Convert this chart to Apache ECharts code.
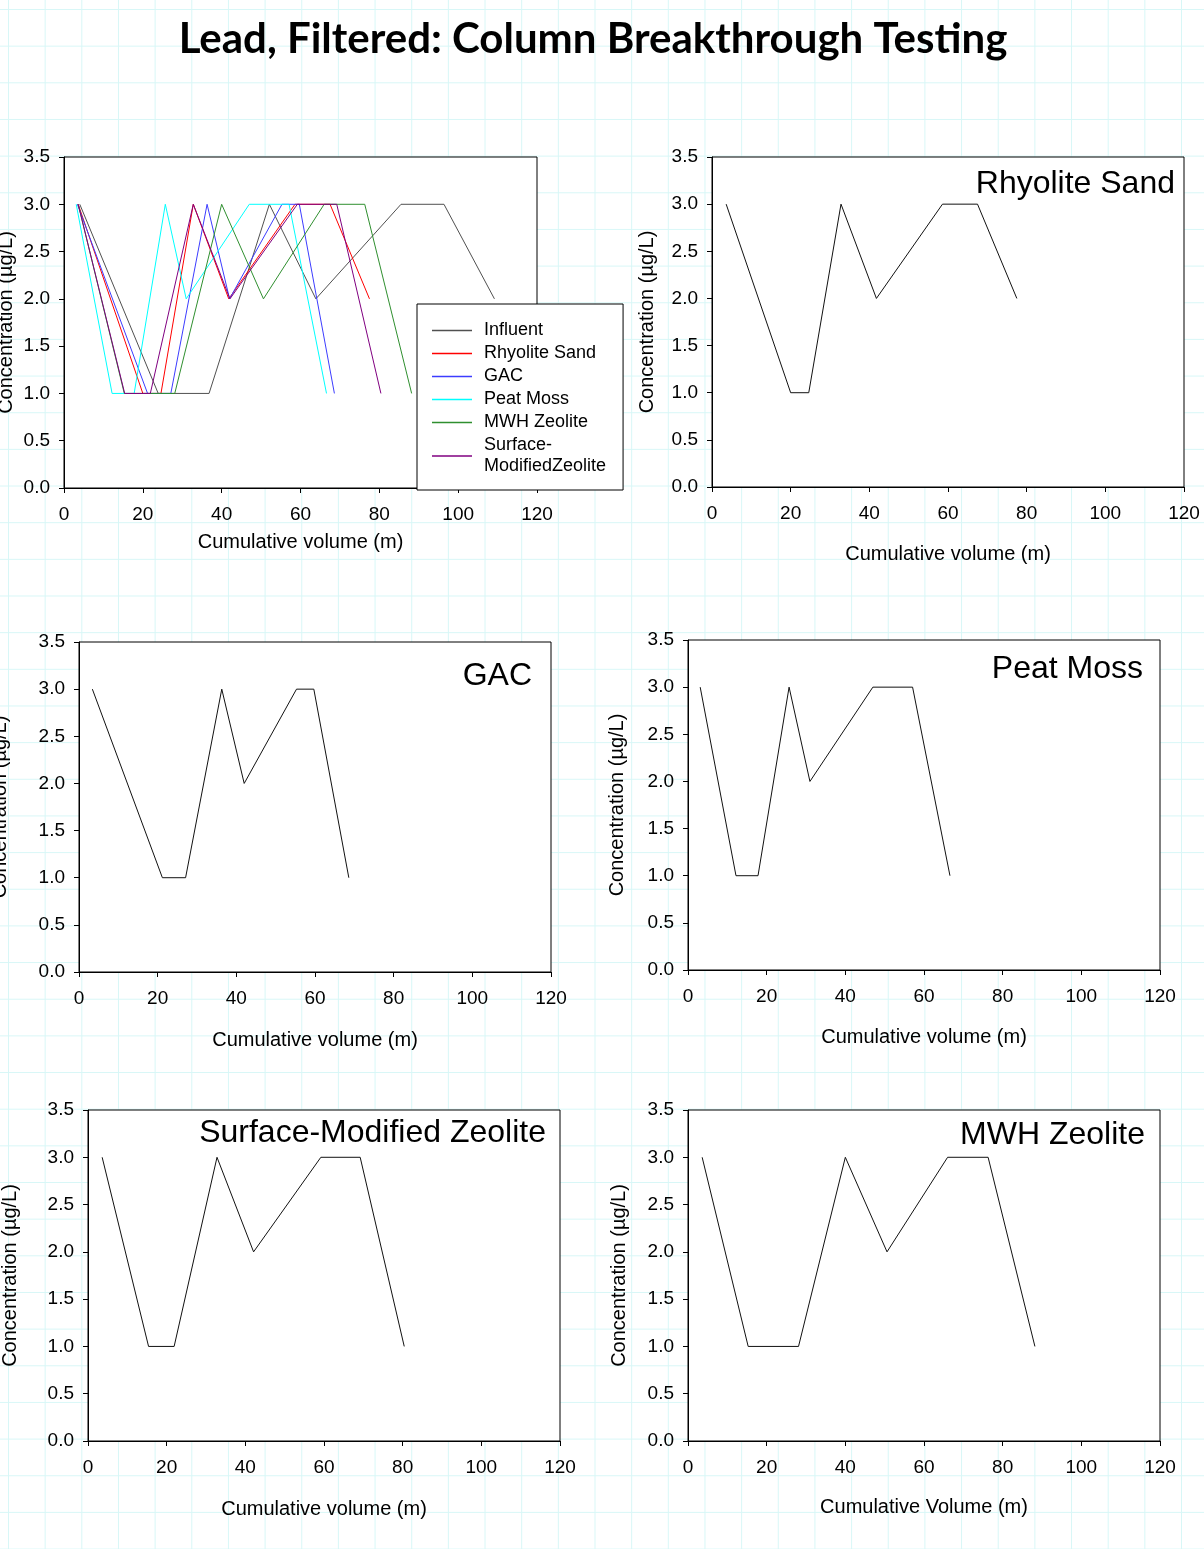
<!DOCTYPE html>
<html>
<head>
<meta charset="utf-8">
<script src="https://cdn.jsdelivr.net/npm/echarts@6/dist/echarts.min.js"></script>
<style>
html,body{margin:0;padding:0;}
body{width:1204px;height:1549px;overflow:hidden;background-color:#fff;
background-image:linear-gradient(to right,#d8f7f7 1px,transparent 1px),linear-gradient(to bottom,#d8f7f7 1px,transparent 1px);
background-size:36.67px 36.67px;background-position:8px 9px;}
#chart{position:absolute;left:0;top:0;width:1204px;height:1549px;}
</style>
</head>
<body>
<div id="chart"></div>
<script>
// ---- data ----
const seriesNames = ['Influent', 'Rhyolite Sand', 'GAC', 'Peat Moss', 'MWH Zeolite', 'Surface-ModifiedZeolite'];

const influentX = [4.0, 23.9, 36.8, 52.1, 63.9, 85.5, 96.4, 109.2];
const influentY = [3.0, 1.0, 1.0, 3.0, 2.0, 3.0, 3.0, 2.0];

const rhyoliteX = [3.6, 20.0, 24.6, 32.8, 41.8, 58.6, 67.5, 77.5];
const rhyoliteY = [3.0, 1.0, 1.0, 3.0, 2.0, 3.0, 3.0, 2.0];

const gacX = [3.4, 21.2, 27.1, 36.3, 42.0, 55.3, 59.7, 68.6];
const gacY = [3.0, 1.0, 1.0, 3.0, 2.0, 3.0, 3.0, 1.0];

const peatX = [3.1, 12.2, 17.8, 25.7, 31.0, 47.0, 57.1, 66.6];
const peatY = [3.0, 1.0, 1.0, 3.0, 2.0, 3.0, 3.0, 1.0];

const mwhX = [3.6, 15.3, 28.1, 40.0, 50.6, 66.0, 76.3, 88.2];
const mwhY = [3.0, 1.0, 1.0, 3.0, 2.0, 3.0, 3.0, 1.0];

const smzX = [3.6, 15.4, 21.9, 32.8, 42.1, 59.2, 69.2, 80.4];
const smzY = [3.0, 1.0, 1.0, 3.0, 2.0, 3.0, 3.0, 1.0];

const xTickLabels = ['0', '20', '40', '60', '80', '100', '120'];
const yTickLabels = ['0.0', '0.5', '1.0', '1.5', '2.0', '2.5', '3.0', '3.5'];

const mainTitle = 'Lead, Filtered: Column Breakthrough Testing';
const yName = 'Concentration (\u00b5g/L)';
const xNameLower = 'Cumulative volume (m)';
const xNameUpper = 'Cumulative Volume (m)';

// ---- helpers ----
const pairs = (xs, ys) => xs.map((x, i) => [x, ys[i]]);
const FONT = "'Liberation Sans', Arial, sans-serif";

const seriesData = {
  'Influent': pairs(influentX, influentY),
  'Rhyolite Sand': pairs(rhyoliteX, rhyoliteY),
  'GAC': pairs(gacX, gacY),
  'Peat Moss': pairs(peatX, peatY),
  'MWH Zeolite': pairs(mwhX, mwhY),
  'Surface-ModifiedZeolite': pairs(smzX, smzY)
};
const colors = {
  'Influent': '#505050',
  'Rhyolite Sand': '#ff0000',
  'GAC': '#3c3cff',
  'Peat Moss': '#00ffff',
  'MWH Zeolite': '#2f8f2f',
  'Surface-ModifiedZeolite': '#800080'
};

// panel layout
const panels = [
  {grid: {left: 64, top: 157, width: 473, height: 331}, yGap: 48, xGap: 44, xName: xNameLower},
  {grid: {left: 712, top: 157, width: 472, height: 330}, yGap: 55, xGap: 57, xName: xNameLower,
   key: 'Rhyolite Sand', label: 'Rhyolite Sand', right: 29, ltop: 168},
  {grid: {left: 79, top: 642, width: 472, height: 330}, yGap: 69, xGap: 58, xName: xNameLower,
   key: 'GAC', label: 'GAC', right: 672, ltop: 660},
  {grid: {left: 688, top: 640, width: 472, height: 330}, yGap: 61, xGap: 57, xName: xNameLower,
   key: 'Peat Moss', label: 'Peat Moss', right: 61, ltop: 653},
  {grid: {left: 88, top: 1110, width: 472, height: 331}, yGap: 68, xGap: 58, xName: xNameLower,
   key: 'Surface-ModifiedZeolite', label: 'Surface-Modified Zeolite', right: 658, ltop: 1117},
  {grid: {left: 688, top: 1110, width: 472, height: 331}, yGap: 59, xGap: 56, xName: xNameUpper,
   key: 'MWH Zeolite', label: 'MWH Zeolite', right: 59, ltop: 1119}
];

const grids = [], xAxes = [], yAxes = [], series = [];
const titles = [{
  text: mainTitle, left: 593, top: 18, textAlign: 'center', padding: 0,
  textStyle: {fontFamily: 'Lato, sans-serif', fontWeight: 'bold', fontSize: 42, color: '#000'}
}];

panels.forEach((p, i) => {
  grids.push(Object.assign({show: true, backgroundColor: '#fff', borderColor: '#000', borderWidth: 1,
    containLabel: false, outerBoundsMode: 'none'}, p.grid));
  xAxes.push({
    type: 'value', gridIndex: i, min: 0, max: 120, interval: 20,
    name: p.xName, nameLocation: 'middle', nameGap: p.xGap,
    nameTextStyle: {fontFamily: FONT, fontSize: 20, color: '#000'},
    axisLine: {show: true, onZero: false, lineStyle: {color: '#000', width: 1}},
    axisTick: {show: true, inside: false, length: 5, lineStyle: {color: '#000'}},
    axisLabel: {margin: 17, fontFamily: FONT, fontSize: 19, color: '#000',
      formatter: v => xTickLabels[Math.round(v / 20)]},
    splitLine: {show: false}
  });
  yAxes.push({
    type: 'value', gridIndex: i, min: 0, max: 3.5, interval: 0.5,
    name: yName, nameLocation: 'middle', nameGap: p.yGap, nameRotate: 90,
    nameTextStyle: {fontFamily: FONT, fontSize: 20, color: '#000'},
    axisLine: {show: true, onZero: false, lineStyle: {color: '#000', width: 1}},
    axisTick: {show: true, inside: false, length: 5, lineStyle: {color: '#000'}},
    axisLabel: {margin: 14, fontFamily: FONT, fontSize: 19, color: '#000',
      formatter: v => yTickLabels[Math.round(v / 0.5)]},
    splitLine: {show: false}
  });
  if (i === 0) {
    seriesNames.forEach(n => {
      series.push({
        name: n, type: 'line', xAxisIndex: 0, yAxisIndex: 0,
        data: seriesData[n], symbol: 'none', showSymbol: false, animation: false,
        color: colors[n],
        lineStyle: {color: colors[n], width: 1}, itemStyle: {color: colors[n]}
      });
    });
  } else {
    series.push({
      name: p.label + ' panel', type: 'line', xAxisIndex: i, yAxisIndex: i,
      data: seriesData[p.key], symbol: 'none', showSymbol: false, animation: false,
      color: '#111',
      lineStyle: {color: '#111', width: 1}, itemStyle: {color: '#111'}
    });
    titles.push({
      text: p.label, right: p.right, top: p.ltop, padding: 0,
      textStyle: {fontFamily: FONT, fontWeight: 'normal', fontSize: 32, color: '#000'}
    });
  }
});

const chart = echarts.init(document.getElementById('chart'), null, {renderer: 'canvas', width: 1204, height: 1549});
chart.setOption({
  backgroundColor: 'transparent',
  animation: false,
  title: titles,
  grid: grids,
  xAxis: xAxes,
  yAxis: yAxes,
  legend: {
    show: true, orient: 'vertical', left: 417, top: 304,
    data: seriesNames,
    icon: 'rect',
    itemWidth: 40, itemHeight: 1.5, itemGap: 2,
    padding: [16, 17, 13, 15],
    backgroundColor: '#fff', borderColor: '#000', borderWidth: 1, borderRadius: 0,
    selectedMode: false,
    formatter: n => n === 'Surface-ModifiedZeolite' ? 'Surface-\nModifiedZeolite' : n,
    textStyle: {fontFamily: FONT, fontSize: 18, color: '#000', lineHeight: 21, padding: [0, 0, 0, 7]}
  },
  series: series
});
</script>
</body>
</html>
